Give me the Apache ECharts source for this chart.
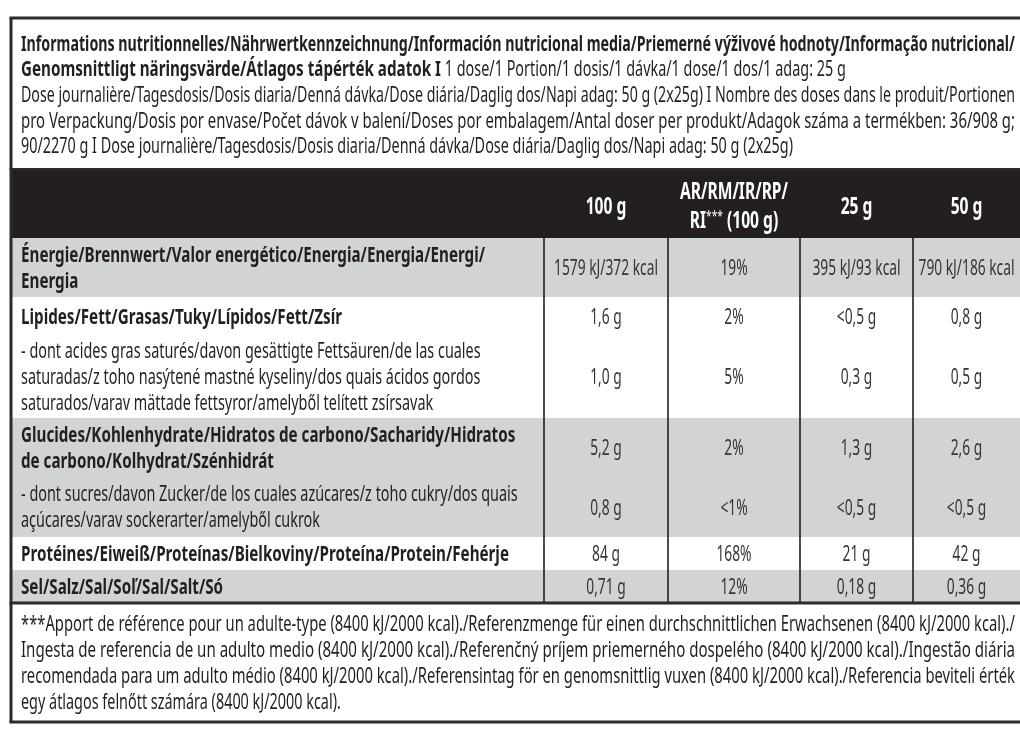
<!DOCTYPE html>
<html>
<head>
<meta charset="utf-8">
<script src="https://cdn.jsdelivr.net/npm/echarts@6/dist/echarts.min.js"></script>
<style>
  html, body { margin: 0; padding: 0; background: #fff; }
  #chart { width: 1020px; height: 732px; }
</style>
</head>
<body>
<div id="chart"></div>
<script>
// ---- data ----
const infoLines = [
  ['Informations nutritionnelles/Nährwertkennzeichnung/Información nutricional media/Priemerné výživové hodnoty/Informação nutricional/', ''],
  ['Genomsnittligt näringsvärde/Átlagos tápérték adatok I', ' 1 dose/1 Portion/1 dosis/1 dávka/1 dose/1 dos/1 adag: 25 g'],
  ['', 'Dose journalière/Tagesdosis/Dosis diaria/Denná dávka/Dose diária/Daglig dos/Napi adag: 50 g (2x25g) I Nombre des doses dans le produit/Portionen'],
  ['', 'pro Verpackung/Dosis por envase/Počet dávok v balení/Doses por embalagem/Antal doser per produkt/Adagok száma a termékben: 36/908 g;'],
  ['', '90/2270 g I Dose journalière/Tagesdosis/Dosis diaria/Denná dávka/Dose diária/Daglig dos/Napi adag: 50 g (2x25g)']
]
const infoJustify = [true, false, true, true, false]

const colHeaders = ['100 g', 'AR/RM/IR/RP/\nRI*** (100 g)', '25 g', '50 g']

const rowLabels = [
  'Énergie/Brennwert/Valor energético/Energia/Energia/Energi/\nEnergia',
  'Lipides/Fett/Grasas/Tuky/Lípidos/Fett/Zsír',
  '- dont acides gras saturés/davon gesättigte Fettsäuren/de las cuales\nsaturadas/z toho nasýtené mastné kyseliny/dos quais ácidos gordos\nsaturados/varav mättade fettsyror/amelyből telített zsírsavak',
  'Glucides/Kohlenhydrate/Hidratos de carbono/Sacharidy/Hidratos\nde carbono/Kolhydrat/Szénhidrát',
  '- dont sucres/davon Zucker/de los cuales azúcares/z toho cukry/dos quais\naçúcares/varav sockerarter/amelyből cukrok',
  'Protéines/Eiweiß/Proteínas/Bielkoviny/Proteína/Protein/Fehérje',
  'Sel/Salz/Sal/Soľ/Sal/Salt/Só'
]
const rowBold = [true, true, false, true, false, true, true]
const per100g = ['1579 kJ/372 kcal', '1,6 g', '1,0 g', '5,2 g', '0,8 g', '84 g', '0,71 g']
const riPct = ['19%', '2%', '5%', '2%', '<1%', '168%', '12%']
const per25g = ['395 kJ/93 kcal', '<0,5 g', '0,3 g', '1,3 g', '<0,5 g', '21 g', '0,18 g']
const per50g = ['790 kJ/186 kcal', '0,8 g', '0,5 g', '2,6 g', '<0,5 g', '42 g', '0,36 g']

const footLines = [
  '***Apport de référence pour un adulte-type (8400 kJ/2000 kcal)./Referenzmenge für einen durchschnittlichen Erwachsenen (8400 kJ/2000 kcal)./',
  'Ingesta de referencia de un adulto medio (8400 kJ/2000 kcal)./Referenčný príjem priemerného dospelého (8400 kJ/2000 kcal)./Ingestão diária',
  'recomendada para um adulto médio (8400 kJ/2000 kcal)./Referensintag för en genomsnittlig vuxen (8400 kJ/2000 kcal)./Referencia beviteli érték',
  'egy átlagos felnőtt számára (8400 kJ/2000 kcal).'
]
const footJustify = [true, true, true, false]

// ---- layout ----
const INK = '#231f20'
const GRAY = '#d1d3d4'
const FAMILY = '"Noto Sans", "Open Sans", sans-serif'
const boldCss = 'bold 22px ' + FAMILY
const regCss = '21px ' + FAMILY
const valueCss = '22px ' + FAMILY
const headCss = 'bold 23px ' + FAMILY

const tableLeft = 11
const tableRight = 1020
const textLeft = 21
const textRight = 1015
const colEdges = [544, 668, 800, 913, 1020]
const headBand = [169, 238]
const headTextY = 207
const rowEdges = [238, 297, 336, 418, 478, 537, 570, 603]
const rowShade = [1, 0, 0, 1, 1, 0, 1]
const infoY = [45, 70, 96, 122, 147]
const footY = [625, 651, 677, 703]
const frameTop = 18
const frameBottom = 722
const lineH = 26

const ctx = document.createElement('canvas').getContext('2d')
const measure = (css, s) => {
  ctx.font = css
  return Math.max(...s.split('\n').map((l) => ctx.measureText(l).width))
}
// condensed widths
const boldScale = 321 / measure(boldCss, rowLabels[1])
const regScale = 772 / measure(regCss, infoLines[4][1])
const valueScale = 96 / measure(valueCss, per50g[0])
const headScale = 108 / measure(headCss, 'AR/RM/IR/RP/')

const txt = (text, x, y, align, css, scale, fill, extra) => ({
  type: 'text',
  x: x,
  y: y,
  scaleX: scale,
  silent: true,
  style: Object.assign({
    text: text,
    font: css,
    fill: fill || INK,
    align: align,
    verticalAlign: 'middle',
    lineHeight: lineH
  }, extra || {})
})

const renderInfo = (params, api) => {
  const i = api.value(0)
  const [bold, reg] = infoLines[i]
  const [x, y] = api.coord([textLeft, infoY[i]])
  const right = api.coord([textRight, 0])[0]
  const children = []
  let cursor = x
  if (bold) {
    const w = measure(boldCss, bold)
    const s = infoJustify[i] && !reg ? (right - x) / w : boldScale
    children.push(txt(bold, cursor, y, 'left', boldCss, s))
    cursor += w * s
  }
  if (reg) {
    const w = measure(regCss, reg)
    const s = infoJustify[i] ? (right - cursor) / w : regScale
    children.push(txt(reg, cursor, y, 'left', regCss, s))
  }
  return { type: 'group', children }
}

const renderHead = (params, api) => {
  const c = api.value(0)
  const [x0, y0] = api.coord([colEdges[c], headBand[0]])
  const [x1, y1] = api.coord([colEdges[c + 1], headBand[1]])
  const y = api.coord([0, headTextY])[1]
  const label = colHeaders[c]
  const rich = label.indexOf('***') >= 0
  const text = rich
    ? label.split('\n').map((l) => l.replace('***', '}{s|***}{h|')).map((l) => '{h|' + l + '}').join('\n')
    : label
  return txt(text, (x0 + x1) / 2, y, 'center', headCss, headScale, '#fff', rich ? {
    rich: {
      h: { font: headCss, fill: '#fff', lineHeight: 29 },
      s: { font: '15px ' + FAMILY, fill: '#fff', lineHeight: 29, verticalAlign: 'top', padding: [2, 0, 0, 0] }
    }
  } : { lineHeight: 29 })
}

const renderRow = (params, api) => {
  const i = api.value(0)
  const [x0, y0] = api.coord([tableLeft, rowEdges[i]])
  const [x1, y1] = api.coord([tableRight, rowEdges[i + 1]])
  const cy = (y0 + y1) / 2
  const children = [{
    type: 'rect',
    silent: true,
    shape: { x: x0, y: y0, width: x1 - x0, height: y1 - y0 },
    style: { fill: rowShade[i] ? GRAY : '#fff' }
  }]
  const tx = api.coord([textLeft, 0])[0]
  children.push(txt(rowLabels[i], tx, cy + 1, 'left', rowBold[i] ? boldCss : regCss, rowBold[i] ? boldScale : regScale))
  const cols = [per100g, riPct, per25g, per50g]
  cols.forEach((arr, c) => {
    const cx = api.coord([(colEdges[c] + colEdges[c + 1]) / 2, 0])[0]
    children.push(txt(arr[i], cx, cy + 1, 'center', valueCss, valueScale, '#383536'))
    const lx = api.coord([colEdges[c], 0])[0]
    children.push({
      type: 'line',
      silent: true,
      shape: { x1: lx, y1: y0, x2: lx, y2: y1 },
      style: { stroke: INK, lineWidth: 1.6 }
    })
  })
  return { type: 'group', children }
}

const renderFoot = (params, api) => {
  const i = api.value(0)
  const [x, y] = api.coord([textLeft, footY[i]])
  const right = api.coord([textRight, 0])[0]
  const w = measure(regCss, footLines[i])
  const s = footJustify[i] ? (right - x) / w : regScale
  return txt(footLines[i], x, y, 'left', regCss, s)
}

const renderFrame = (params, api) => {
  const p = (x, y) => api.coord([x, y])
  const [lx, ty] = p(tableLeft, frameTop)
  const [rx, by] = p(tableRight + 2, frameBottom)
  const hb = p(0, headBand[0])[1]
  const tb = p(0, rowEdges[rowEdges.length - 1])[1]
  const hl = (y, w) => ({ type: 'line', silent: true, shape: { x1: lx - 1.5, y1: y, x2: rx, y2: y }, style: { stroke: '#2b2b2b', lineWidth: w } })
  return {
    type: 'group',
    children: [
      {
        type: 'rect',
        silent: true,
        shape: { x: lx, y: hb, width: rx - lx, height: p(0, headBand[1])[1] - hb },
        style: { fill: INK }
      },
      hl(ty, 3),
      hl(hb, 2),
      hl(tb, 3),
      hl(by, 3),
      { type: 'line', silent: true, shape: { x1: lx, y1: ty, x2: lx, y2: by }, style: { stroke: '#2b2b2b', lineWidth: 3 } }
    ]
  }
}

const myChart = echarts.init(document.getElementById('chart'))
const option = {
  animation: false,
  backgroundColor: '#fff',
  grid: { left: 0, right: 0, top: 0, bottom: 0 },
  xAxis: { type: 'value', min: 0, max: 1020, show: false },
  yAxis: { type: 'value', min: 0, max: 732, inverse: true, show: false },
  series: [
    {
      type: 'custom',
      name: 'info',
      silent: true,
      renderItem: renderInfo,
      data: infoLines.map((l, i) => [i, 0])
    },
    {
      type: 'custom',
      name: 'rows',
      silent: true,
      renderItem: renderRow,
      data: rowLabels.map((l, i) => [i, 0])
    },
    {
      type: 'custom',
      name: 'frame',
      silent: true,
      renderItem: renderFrame,
      data: [[0, 0]]
    },
    {
      type: 'custom',
      name: 'head',
      silent: true,
      z: 5,
      renderItem: renderHead,
      data: colHeaders.map((h, i) => [i, 0])
    },
    {
      type: 'custom',
      name: 'foot',
      silent: true,
      renderItem: renderFoot,
      data: footLines.map((l, i) => [i, 0])
    }
  ]
}
myChart.setOption(option)
</script>
</body>
</html>
